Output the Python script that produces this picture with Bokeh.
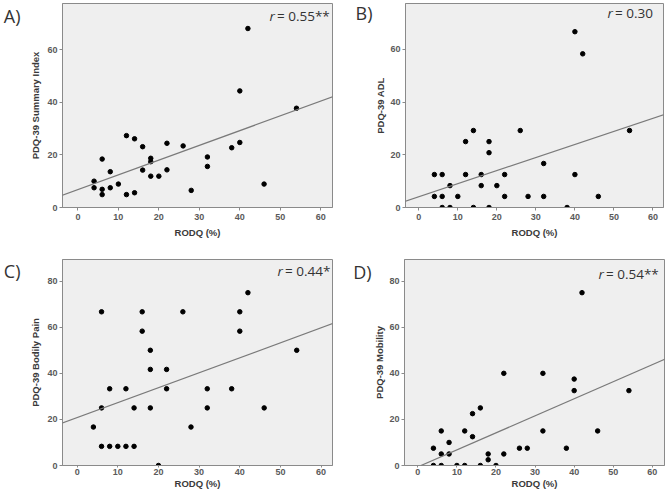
from bokeh.plotting import figure
from bokeh.layouts import column, row
from bokeh.models import Label, Slope, Range1d, FixedTicker, LinearAxis
from bokeh.embed import file_html
from bokeh.resources import INLINE

# ---------------- data ----------------
x_ticks = [0, 10, 20, 30, 40, 50, 60]

# A) PDQ-39 Summary Index
rodq_a = [42, 40, 54, 12, 14, 16, 22, 26, 38, 40, 6, 18, 18, 32, 32,
          16, 22, 8, 18, 20, 4, 4, 10, 8, 6, 6, 12, 14, 28, 46]
pdq_summary = [68.0, 44.3, 37.7, 27.3, 26.1, 23.1, 24.4, 23.4, 22.7, 24.7, 18.4, 18.7, 17.4, 19.2, 15.6,
               14.2, 14.3, 13.6, 11.9, 11.9, 10.0, 7.5, 8.9, 7.5, 6.9, 4.9, 4.9, 5.6, 6.5, 8.9]

# B) PDQ-39 ADL
rodq_b = [40, 42, 54, 14, 26, 12, 18, 18, 32, 4, 6, 12, 16, 22, 40,
          8, 16, 20, 4, 6, 10, 22, 28, 32, 46, 6, 8, 14, 18, 38]
pdq_adl = [66.7, 58.3, 29.2, 29.2, 29.2, 25.0, 25.0, 20.8, 16.7, 12.5, 12.5, 12.5, 12.5, 12.5, 12.5,
           8.3, 8.3, 8.3, 4.2, 4.2, 4.2, 4.2, 4.2, 4.2, 4.2, 0, 0, 0, 0, 0]

# C) PDQ-39 Bodily Pain
rodq_c = [6, 16, 26, 40, 42, 16, 40, 54, 18, 18, 22, 8, 12, 22, 32,
          38, 6, 14, 18, 32, 46, 4, 28, 6, 8, 10, 12, 14, 20]
pdq_pain = [66.7, 66.7, 66.7, 66.7, 75.0, 58.3, 58.3, 50.0, 50.0, 41.7, 41.7, 33.3, 33.3, 33.3, 33.3,
            33.3, 25.0, 25.0, 25.0, 25.0, 25.0, 16.7, 16.7, 8.3, 8.3, 8.3, 8.3, 8.3, 0]

# D) PDQ-39 Mobility
rodq_d = [42, 22, 32, 40, 40, 54, 16, 14, 6, 12, 32, 46, 14, 8, 4,
          26, 28, 38, 6, 8, 18, 22, 18, 4, 6, 10, 12, 16, 20]
pdq_mobility = [75.0, 40.0, 40.0, 37.5, 32.5, 32.5, 25.0, 22.5, 15.0, 15.0, 15.0, 15.0, 12.5, 10.0, 7.5,
                7.5, 7.5, 7.5, 5.0, 5.0, 5.0, 5.0, 2.5, 0, 0, 0, 0, 0, 0]

panel_letters = ["A)", "B)", "C)", "D)"]
y_labels = ["PDQ-39 Summary Index", "PDQ-39 ADL", "PDQ-39 Bodily Pain", "PDQ-39 Mobility"]
r_texts = ["= 0.55**", "= 0.30", "= 0.44*", "= 0.54**"]
fit_intercepts = [6.8, 4.1, 20.8, -0.6]
fit_slopes = [0.56, 0.496, 0.649, 0.739]
y_ticks_top = [0, 20, 40, 60]
y_ticks_bottom = [0, 20, 40, 60, 80]

# ---------------- styling ----------------
GRAY = "#8a8a8a"
TICK_FONT = "Liberation Sans"
TEXT_FONT = "Open Sans"


def style_axis(ax, tick_out, tick_standoff, label_standoff):
    ax.axis_line_color = GRAY
    ax.major_tick_line_color = GRAY
    ax.major_tick_out = tick_out
    ax.major_tick_in = 0
    ax.minor_tick_line_color = None
    ax.major_label_text_font = TICK_FONT
    ax.major_label_text_font_size = "9px"
    ax.major_label_text_font_style = "bold"
    ax.major_label_text_color = "#5a5a5a"
    ax.major_label_standoff = tick_standoff
    ax.axis_label_text_font = TICK_FONT
    ax.axis_label_text_font_size = "9.5px"
    ax.axis_label_text_font_style = "bold"
    ax.axis_label_text_color = "#3a3a3a"
    ax.axis_label_standoff = label_standoff


def make_panel(xs, ys, letter, ylabel, rtext, b0, b1, yticks, xr, yr,
               width, height, bl, br, bt, bb, r_from_right, r_below,
               letter_standoff, letter_below, x_tick_out, x_tick_standoff, x_label_standoff,
               y_label_standoff):
    fw = width - bl - br
    fh = height - bt - bb
    p = figure(width=width, height=height, x_range=Range1d(*xr), y_range=Range1d(*yr),
               output_backend="svg", toolbar_location=None,
               min_border_left=bl, min_border_right=br, min_border_top=bt, min_border_bottom=bb,
               background_fill_color="#efefef", border_fill_color="white",
               outline_line_color=GRAY, outline_line_width=1)
    p.xgrid.visible = False
    p.ygrid.visible = False

    style_axis(p.xaxis[0], x_tick_out, x_tick_standoff, x_label_standoff)
    style_axis(p.yaxis[0], 3, 2, y_label_standoff)
    p.xaxis.ticker = FixedTicker(ticks=x_ticks)
    p.yaxis.ticker = FixedTicker(ticks=yticks)
    p.xaxis.axis_label = "RODQ (%)"
    p.yaxis.axis_label = ylabel

    # panel letter, placed as a horizontal tick label on an outer left axis
    p.extra_y_ranges = {"letter": Range1d(start=fh, end=0)}
    lax = LinearAxis(y_range_name="letter", ticker=FixedTicker(ticks=[letter_below]),
                     major_label_overrides={letter_below: letter})
    lax.axis_line_color = None
    lax.major_tick_line_color = None
    lax.major_tick_out = 0
    lax.major_tick_in = 0
    lax.minor_tick_line_color = None
    lax.major_label_text_font = TEXT_FONT
    lax.major_label_text_font_size = "18px"
    lax.major_label_text_color = "#333333"
    lax.major_label_standoff = letter_standoff
    p.add_layout(lax, "left")

    p.add_layout(Slope(gradient=b1, y_intercept=b0, line_color="#7a7a7a", line_width=1.2))
    p.scatter(xs, ys, size=4.5, color="black")

    rx = fw - r_from_right
    p.add_layout(Label(x=rx, y=fh - r_below, x_units="screen", y_units="screen", text="r",
                       text_font=TEXT_FONT, text_font_size="13.5px", text_font_style="italic",
                       text_color="#333333", text_baseline="middle", text_align="left"))
    p.add_layout(Label(x=rx + 7.5, y=fh - r_below, x_units="screen", y_units="screen", text=rtext,
                       text_font=TEXT_FONT, text_font_size="13.5px",
                       text_color="#333333", text_baseline="middle", text_align="left"))
    return p


pa = make_panel(rodq_a, pdq_summary, panel_letters[0], y_labels[0], r_texts[0],
                fit_intercepts[0], fit_slopes[0], y_ticks_top, (-3.8, 62.9), (0, 77.5),
                333, 249, 62, 1, 3, 42, 63, 12, 7, 12, 3, 3, 4, 3)
pb = make_panel(rodq_b, pdq_adl, panel_letters[1], y_labels[1], r_texts[1],
                fit_intercepts[1], fit_slopes[1], y_ticks_top, (-3.4, 62.7), (0, 77.4),
                333, 249, 72, 3, 3, 42, 56, 9, 0, 9, 3, 3, 4, 1)
pc = make_panel(rodq_c, pdq_pain, panel_letters[2], y_labels[2], r_texts[2],
                fit_intercepts[2], fit_slopes[2], y_ticks_bottom, (-3.6, 62.8), (0, 89.4),
                333, 249, 62, 1, 10, 33, 55, 11, 7, 11, 2, 1, 0, 3)
pd_ = make_panel(rodq_d, pdq_mobility, panel_letters[3], y_labels[3], r_texts[3],
                 fit_intercepts[3], fit_slopes[3], y_ticks_bottom, (-3.4, 63.1), (0, 89.4),
                 333, 249, 71, 2, 10, 33, 66, 14, 0, 12, 2, 1, 0, 1)

layout = column(row(pa, pb), row(pc, pd_))

html = file_html(layout, INLINE)
open("out.html", "w").write(html)
